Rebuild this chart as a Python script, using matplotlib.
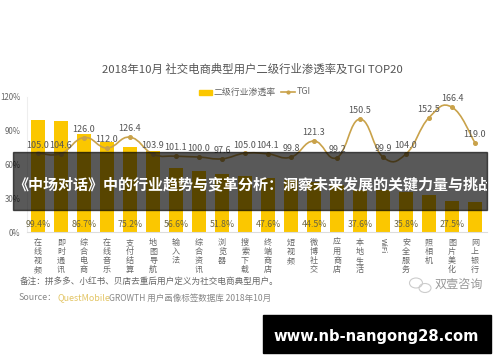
import numpy as np
import matplotlib
matplotlib.use('Agg')
import matplotlib.pyplot as plt
from matplotlib.patches import Ellipse, PathPatch, Rectangle
from matplotlib.path import Path

plt.rcParams['font.family'] = ['Noto Sans CJK SC', 'DejaVu Sans']

W, H = 500, 362

categories = ['在线视频', '即时通讯', '综合电商', '在线音乐', '支付结算', '地图导航', '输入法',
              '综合资讯', '浏览器', '搜索下载', '终端商店', '短视频', '微博社交', '应用商店',
              '本地生活', 'WiFi', '安全服务', '照相机', '图片美化', '网上银行']
# every other bar label is shown in the original, the rest are estimated from bar height
penetration = [99.4, 98.8, 86.7, 80.0, 75.2, 72.0, 56.6, 54.5, 51.8, 49.5,
               47.6, 46.5, 44.5, 42.0, 37.6, 37.0, 35.8, 33.0, 27.5, 27.0]
penetration_labels = ['99.4%', '', '86.7%', '', '75.2%', '', '56.6%', '', '51.8%', '',
                      '47.6%', '', '44.5%', '', '37.6%', '', '35.8%', '', '27.5%', '']
tgi = [105.0, 104.6, 126.0, 112.0, 126.4, 103.9, 101.1, 100.0, 97.6, 105.0,
       104.1, 99.8, 121.3, 99.2, 150.5, 99.9, 104.0, 152.5, 166.4, 119.0]
pct_ticks = [0, 30, 60, 90, 120]

YELLOW = '#fbc700'
LINE = '#c9a24a'
GRAY = '#666666'


def px_text(fig, x, y, s, **kw):
    # x, y in pixels from the top left of the image
    return fig.text(x / W, 1 - y / H, s, **kw)


def px_rect(fig, x0, y0, x1, y1, **kw):
    fig.patches.append(Rectangle((x0 / W, 1 - y1 / H), (x1 - x0) / W, (y1 - y0) / H,
                                 transform=fig.transFigure, figure=fig, **kw))


def smooth_path(xs, ys, k=0.22):
    # bezier through the points, like the smoothed line option in Excel
    verts = [(xs[0], ys[0])]
    codes = [Path.MOVETO]
    n = len(xs)
    for i in range(n - 1):
        a, b = max(i - 1, 0), min(i + 2, n - 1)
        verts.append((xs[i] + k * (xs[i + 1] - xs[a]), ys[i] + k * (ys[i + 1] - ys[a])))
        verts.append((xs[i + 1] - k * (xs[b] - xs[i]), ys[i + 1] - k * (ys[b] - ys[i])))
        verts.append((xs[i + 1], ys[i + 1]))
        codes += [Path.CURVE4] * 3
    return Path(verts, codes)


def main():
    fig = plt.figure(figsize=(W / 100, H / 100), dpi=100, facecolor='white')
    ax = fig.add_axes([26.5 / W, 1 - 232 / H, 460 / W, 135 / H])
    x = np.arange(len(categories))

    ax.bar(x, penetration, width=0.65, color=YELLOW, zorder=2)
    ax.set_xlim(-0.5, 19.5)
    ax.set_ylim(0, 120)
    ax.set_yticks(pct_ticks, [f'{t}%' for t in pct_ticks], fontsize=5.7, color=GRAY)
    ax.set_xticks([])
    ax.tick_params(axis='y', length=0, pad=4.5)
    for side in ['top', 'right']:
        ax.spines[side].set_visible(False)
    ax.spines['left'].set_color('#eeeeee')
    ax.spines['bottom'].set_color('#dddddd')

    for i, lab in enumerate(penetration_labels):
        if lab:
            ax.text(x[i], 7, lab, ha='center', va='center', fontsize=6.3, color='#6b6440', zorder=5)

    # TGI has its own hidden axis, 0-180
    ax2 = ax.twinx()
    ax2.set_ylim(0, 180)
    ax2.axis('off')
    ax2.add_patch(PathPatch(smooth_path(x, tgi), fill=False, edgecolor=LINE, lw=1.2, zorder=3))
    ax2.plot(x, tgi, ls='none', marker='o', ms=2.6, color=LINE, zorder=4)
    for i, v in enumerate(tgi):
        ax2.text(x[i], v + 5, f'{v:.1f}', ha='center', va='bottom', fontsize=6.5, color='#555555', zorder=5)

    px_text(fig, 252, 69, '2018年10月 社交电商典型用户二级行业渗透率及TGI TOP20', ha='center', va='center',
            fontsize=8.2, color='#555555')

    # legend
    px_rect(fig, 199, 90, 212, 95, color=YELLOW)
    px_text(fig, 214, 92, '二级行业渗透率', ha='left', va='center', fontsize=6.4, color=GRAY)
    fig.add_artist(plt.Line2D([281 / W, 295 / W], [1 - 92 / H] * 2, color=LINE, lw=1.2, transform=fig.transFigure))
    fig.add_artist(plt.Line2D([288 / W], [1 - 92 / H], color=LINE, marker='o', ms=2, transform=fig.transFigure))
    px_text(fig, 297, 92, 'TGI', ha='left', va='center', fontsize=6.4, color=GRAY)

    # category labels, written top to bottom
    for i, name in enumerate(categories):
        xp = 26.5 + 23 * (i + 0.5)
        if name == 'WiFi':
            px_text(fig, xp, 238, name, ha='center', va='top', rotation=270, fontsize=5.5, color='#555555')
        else:
            px_text(fig, xp, 238, '\n'.join(name), ha='center', va='top', fontsize=5.8, color=GRAY,
                    linespacing=1.0)

    px_text(fig, 20, 281, '备注：拼多多、小红书、贝店去重后用户定义为社交电商典型用户。', ha='left', va='center',
            fontsize=6.2, color=GRAY)
    px_text(fig, 19, 298, 'Source：', ha='left', va='center', fontsize=6.4, color='#888888')
    px_text(fig, 57, 298, 'QuestMobile', ha='left', va='center', fontsize=6.4, color='#e3c565')
    px_text(fig, 109, 298, 'GROWTH 用户画像标签数据库 2018年10月', ha='left', va='center', fontsize=6.15,
            color='#888888')

    # watermark
    for cx, cy, w, h in [(416, 283, 13, 10), (425, 288, 12, 9)]:
        fig.add_artist(Ellipse((cx / W, 1 - cy / H), w / W, h / H, fill=False, edgecolor='#cccccc', lw=0.8,
                               transform=fig.transFigure))
    px_text(fig, 435, 284, '双壹咨询', ha='left', va='center', fontsize=8.7, color='#999999')

    # overlay banners from the page
    px_rect(fig, 13, 152, 487, 210, color='black', alpha=0.65, zorder=10)
    banner = px_text(fig, 13, 184, '《中场对话》中的行业趋势与变革分析：洞察未来发展的关键力量与挑战', ha='left', va='center',
                     fontsize=10.8, fontweight='bold', color='white', zorder=11)
    banner.set_clip_path(Rectangle((13, 0), 474, H))
    px_rect(fig, 263, 315, 491, 353, color='black', zorder=10)
    px_text(fig, 376, 337, 'www.nb-nangong28.com', ha='center', va='center', fontsize=10.6, fontweight='bold',
            color='white', zorder=11, family='DejaVu Sans')

    fig.savefig('out.png', dpi=100)


if __name__ == "__main__":
    main()
